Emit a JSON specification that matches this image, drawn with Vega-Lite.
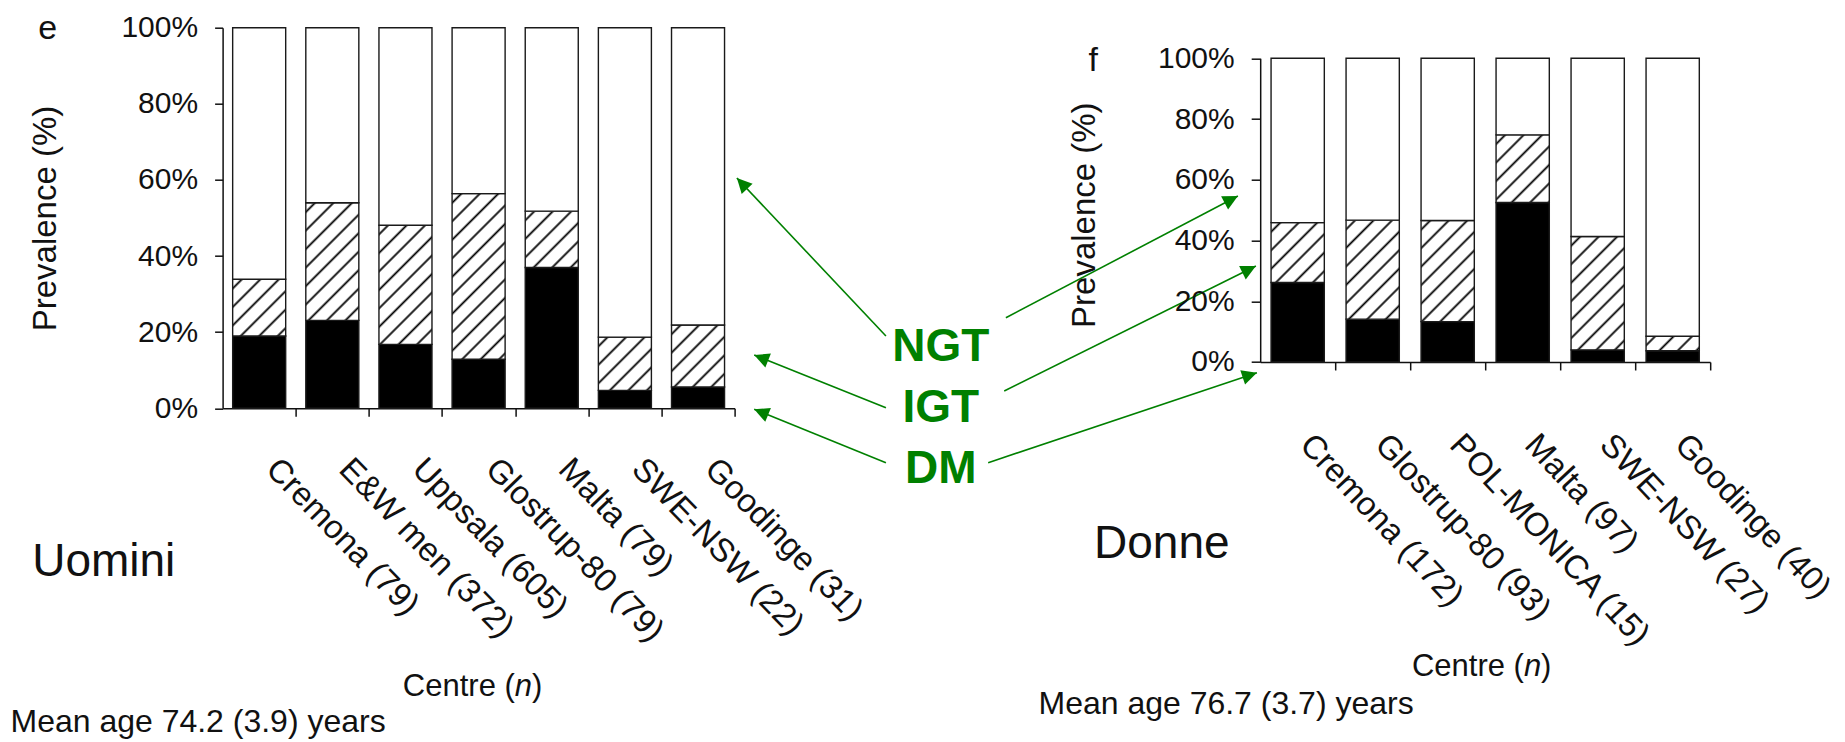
{
  "$schema": "https://vega.github.io/schema/vega-lite/v6.json",
  "padding": {"left": 9.6, "top": 11.7, "right": 0, "bottom": 0},
  "background": "white",
  "config": {"view": {"stroke": null}, "font": "Liberation Sans"},
  "bounds": "flush",
  "spacing": 525.6,
  "datasets": {
    "men": [
      {"centre": "Cremona (79)", "status": "DM", "pct": 19.0},
      {"centre": "Cremona (79)", "status": "IGT", "pct": 14.9},
      {"centre": "Cremona (79)", "status": "NGT", "pct": 66.1},
      {"centre": "E&W men (372)", "status": "DM", "pct": 23.1},
      {"centre": "E&W men (372)", "status": "IGT", "pct": 30.9},
      {"centre": "E&W men (372)", "status": "NGT", "pct": 46.0},
      {"centre": "Uppsala (605)", "status": "DM", "pct": 16.8},
      {"centre": "Uppsala (605)", "status": "IGT", "pct": 31.3},
      {"centre": "Uppsala (605)", "status": "NGT", "pct": 51.9},
      {"centre": "Glostrup-80 (79)", "status": "DM", "pct": 12.9},
      {"centre": "Glostrup-80 (79)", "status": "IGT", "pct": 43.5},
      {"centre": "Glostrup-80 (79)", "status": "NGT", "pct": 43.6},
      {"centre": "Malta (79)", "status": "DM", "pct": 37.0},
      {"centre": "Malta (79)", "status": "IGT", "pct": 14.8},
      {"centre": "Malta (79)", "status": "NGT", "pct": 48.2},
      {"centre": "SWE-NSW (22)", "status": "DM", "pct": 4.7},
      {"centre": "SWE-NSW (22)", "status": "IGT", "pct": 14.0},
      {"centre": "SWE-NSW (22)", "status": "NGT", "pct": 81.3},
      {"centre": "Goodinge (31)", "status": "DM", "pct": 5.6},
      {"centre": "Goodinge (31)", "status": "IGT", "pct": 16.3},
      {"centre": "Goodinge (31)", "status": "NGT", "pct": 78.1}
    ],
    "women": [
      {"centre": "Cremona (172)", "status": "DM", "pct": 26.2},
      {"centre": "Cremona (172)", "status": "IGT", "pct": 19.7},
      {"centre": "Cremona (172)", "status": "NGT", "pct": 54.1},
      {"centre": "Glostrup-80 (93)", "status": "DM", "pct": 14.1},
      {"centre": "Glostrup-80 (93)", "status": "IGT", "pct": 32.6},
      {"centre": "Glostrup-80 (93)", "status": "NGT", "pct": 53.3},
      {"centre": "POL-MONICA (15)", "status": "DM", "pct": 13.3},
      {"centre": "POL-MONICA (15)", "status": "IGT", "pct": 33.3},
      {"centre": "POL-MONICA (15)", "status": "NGT", "pct": 53.4},
      {"centre": "Malta (97)", "status": "DM", "pct": 52.5},
      {"centre": "Malta (97)", "status": "IGT", "pct": 22.3},
      {"centre": "Malta (97)", "status": "NGT", "pct": 25.2},
      {"centre": "SWE-NSW (27)", "status": "DM", "pct": 4.0},
      {"centre": "SWE-NSW (27)", "status": "IGT", "pct": 37.3},
      {"centre": "SWE-NSW (27)", "status": "NGT", "pct": 58.7},
      {"centre": "Goodinge (40)", "status": "DM", "pct": 3.7},
      {"centre": "Goodinge (40)", "status": "IGT", "pct": 4.8},
      {"centre": "Goodinge (40)", "status": "NGT", "pct": 91.5}
    ]
  },
  "hconcat": [
    {
      "width": 512,
      "height": 380.6,
      "layer": [
        {
          "data": {"name": "men"},
          "mark": {"type": "bar", "stroke": "#1a1a1a", "strokeWidth": 1.4},
          "encoding": {
            "x": {
              "field": "centre", "type": "nominal", "sort": null,
              "scale": {"paddingInner": 0.275, "paddingOuter": 0.1375},
              "axis": {"title": null, "labelAngle": 46, "labelAlign": "left", "labelBaseline": "middle", "labelFontSize": 33, "labelColor": "#111", "labelPadding": 47, "labelOffset": -24.6, "tickOffset": 36.57, "tickSize": 8, "tickWidth": 1.5, "tickColor": "#111", "domainColor": "#111", "domainWidth": 1.5, "labelLimit": 400, "labelOverlap": false, "grid": false}
            },
            "y": {
              "field": "pct", "type": "quantitative", "stack": "zero",
              "scale": {"domain": [0, 100], "nice": false},
              "axis": {"values": [0, 20, 40, 60, 80, 100], "labelExpr": "datum.value + '%'", "title": "Prevalence (%)", "titleFontSize": 33, "titleFontWeight": "normal", "titleColor": "#111", "titlePadding": 58, "labelFontSize": 30, "labelColor": "#111", "labelPadding": 17, "tickSize": 8, "tickWidth": 1.5, "tickColor": "#111", "domainColor": "#111", "domainWidth": 1.5, "grid": false}
            },
            "order": {"field": "status", "type": "ordinal", "sort": "ascending"},
            "fill": {
              "condition": [
                {"test": "datum.status === 'DM'", "value": "#000000"},
                {"test": "datum.status === 'NGT'", "value": "#ffffff"},
                {"test": "datum.centre === 'Cremona (79)'", "value": {"gradient": "linear", "x1": 0, "y1": 0, "x2": 1.9532, "y2": 2.0896, "stops": [{"offset":0.0302,"color":"#fff"},{"offset":0.0417,"color":"#000"},{"offset":0.0532,"color":"#fff"},{"offset":0.1135,"color":"#fff"},{"offset":0.125,"color":"#000"},{"offset":0.1365,"color":"#fff"},{"offset":0.1968,"color":"#fff"},{"offset":0.2083,"color":"#000"},{"offset":0.2198,"color":"#fff"},{"offset":0.2802,"color":"#fff"},{"offset":0.2917,"color":"#000"},{"offset":0.3032,"color":"#fff"},{"offset":0.3635,"color":"#fff"},{"offset":0.375,"color":"#000"},{"offset":0.3865,"color":"#fff"},{"offset":0.4468,"color":"#fff"},{"offset":0.4583,"color":"#000"},{"offset":0.4698,"color":"#fff"},{"offset":0.5302,"color":"#fff"},{"offset":0.5417,"color":"#000"},{"offset":0.5532,"color":"#fff"}]}},
                {"test": "datum.centre === 'E&W men (372)'", "value": {"gradient": "linear", "x1": 0, "y1": 0, "x2": 0.7071, "y2": 1.5691, "stops": [{"offset":0.0302,"color":"#fff"},{"offset":0.0417,"color":"#000"},{"offset":0.0532,"color":"#fff"},{"offset":0.1135,"color":"#fff"},{"offset":0.125,"color":"#000"},{"offset":0.1365,"color":"#fff"},{"offset":0.1968,"color":"#fff"},{"offset":0.2083,"color":"#000"},{"offset":0.2198,"color":"#fff"},{"offset":0.2802,"color":"#fff"},{"offset":0.2917,"color":"#000"},{"offset":0.3032,"color":"#fff"},{"offset":0.3635,"color":"#fff"},{"offset":0.375,"color":"#000"},{"offset":0.3865,"color":"#fff"},{"offset":0.4468,"color":"#fff"},{"offset":0.4583,"color":"#000"},{"offset":0.4698,"color":"#fff"},{"offset":0.5302,"color":"#fff"},{"offset":0.5417,"color":"#000"},{"offset":0.5532,"color":"#fff"},{"offset":0.6135,"color":"#fff"},{"offset":0.625,"color":"#000"},{"offset":0.6365,"color":"#fff"},{"offset":0.6968,"color":"#fff"},{"offset":0.7083,"color":"#000"},{"offset":0.7198,"color":"#fff"},{"offset":0.7802,"color":"#fff"},{"offset":0.7917,"color":"#000"},{"offset":0.8032,"color":"#fff"},{"offset":0.8635,"color":"#fff"},{"offset":0.875,"color":"#000"},{"offset":0.8865,"color":"#fff"}]}},
                {"test": "datum.centre === 'Uppsala (605)'", "value": {"gradient": "linear", "x1": 0, "y1": 0, "x2": 0.6924, "y2": 1.5559, "stops": [{"offset":0.0302,"color":"#fff"},{"offset":0.0417,"color":"#000"},{"offset":0.0532,"color":"#fff"},{"offset":0.1135,"color":"#fff"},{"offset":0.125,"color":"#000"},{"offset":0.1365,"color":"#fff"},{"offset":0.1968,"color":"#fff"},{"offset":0.2083,"color":"#000"},{"offset":0.2198,"color":"#fff"},{"offset":0.2802,"color":"#fff"},{"offset":0.2917,"color":"#000"},{"offset":0.3032,"color":"#fff"},{"offset":0.3635,"color":"#fff"},{"offset":0.375,"color":"#000"},{"offset":0.3865,"color":"#fff"},{"offset":0.4468,"color":"#fff"},{"offset":0.4583,"color":"#000"},{"offset":0.4698,"color":"#fff"},{"offset":0.5302,"color":"#fff"},{"offset":0.5417,"color":"#000"},{"offset":0.5532,"color":"#fff"},{"offset":0.6135,"color":"#fff"},{"offset":0.625,"color":"#000"},{"offset":0.6365,"color":"#fff"},{"offset":0.6968,"color":"#fff"},{"offset":0.7083,"color":"#000"},{"offset":0.7198,"color":"#fff"},{"offset":0.7802,"color":"#fff"},{"offset":0.7917,"color":"#000"},{"offset":0.8032,"color":"#fff"},{"offset":0.8635,"color":"#fff"},{"offset":0.875,"color":"#000"},{"offset":0.8865,"color":"#fff"}]}},
                {"test": "datum.centre === 'Glostrup-80 (79)'", "value": {"gradient": "linear", "x1": 0, "y1": 0, "x2": 0.3892, "y2": 1.2160, "stops": [{"offset":0.0302,"color":"#fff"},{"offset":0.0417,"color":"#000"},{"offset":0.0532,"color":"#fff"},{"offset":0.1135,"color":"#fff"},{"offset":0.125,"color":"#000"},{"offset":0.1365,"color":"#fff"},{"offset":0.1968,"color":"#fff"},{"offset":0.2083,"color":"#000"},{"offset":0.2198,"color":"#fff"},{"offset":0.2802,"color":"#fff"},{"offset":0.2917,"color":"#000"},{"offset":0.3032,"color":"#fff"},{"offset":0.3635,"color":"#fff"},{"offset":0.375,"color":"#000"},{"offset":0.3865,"color":"#fff"},{"offset":0.4468,"color":"#fff"},{"offset":0.4583,"color":"#000"},{"offset":0.4698,"color":"#fff"},{"offset":0.5302,"color":"#fff"},{"offset":0.5417,"color":"#000"},{"offset":0.5532,"color":"#fff"},{"offset":0.6135,"color":"#fff"},{"offset":0.625,"color":"#000"},{"offset":0.6365,"color":"#fff"},{"offset":0.6968,"color":"#fff"},{"offset":0.7083,"color":"#000"},{"offset":0.7198,"color":"#fff"},{"offset":0.7802,"color":"#fff"},{"offset":0.7917,"color":"#000"},{"offset":0.8032,"color":"#fff"},{"offset":0.8635,"color":"#fff"},{"offset":0.875,"color":"#000"},{"offset":0.8865,"color":"#fff"},{"offset":0.9468,"color":"#fff"},{"offset":0.9583,"color":"#000"},{"offset":0.9698,"color":"#fff"}]}},
                {"test": "datum.centre === 'Malta (79)'", "value": {"gradient": "linear", "x1": 0, "y1": 0, "x2": 1.9680, "y2": 2.0905, "stops": [{"offset":0.0302,"color":"#fff"},{"offset":0.0417,"color":"#000"},{"offset":0.0532,"color":"#fff"},{"offset":0.1135,"color":"#fff"},{"offset":0.125,"color":"#000"},{"offset":0.1365,"color":"#fff"},{"offset":0.1968,"color":"#fff"},{"offset":0.2083,"color":"#000"},{"offset":0.2198,"color":"#fff"},{"offset":0.2802,"color":"#fff"},{"offset":0.2917,"color":"#000"},{"offset":0.3032,"color":"#fff"},{"offset":0.3635,"color":"#fff"},{"offset":0.375,"color":"#000"},{"offset":0.3865,"color":"#fff"},{"offset":0.4468,"color":"#fff"},{"offset":0.4583,"color":"#000"},{"offset":0.4698,"color":"#fff"},{"offset":0.5302,"color":"#fff"},{"offset":0.5417,"color":"#000"},{"offset":0.5532,"color":"#fff"}]}},
                {"test": "datum.centre === 'SWE-NSW (22)'", "value": {"gradient": "linear", "x1": 0, "y1": 0, "x2": 2.0825, "y2": 2.0943, "stops": [{"offset":0.0302,"color":"#fff"},{"offset":0.0417,"color":"#000"},{"offset":0.0532,"color":"#fff"},{"offset":0.1135,"color":"#fff"},{"offset":0.125,"color":"#000"},{"offset":0.1365,"color":"#fff"},{"offset":0.1968,"color":"#fff"},{"offset":0.2083,"color":"#000"},{"offset":0.2198,"color":"#fff"},{"offset":0.2802,"color":"#fff"},{"offset":0.2917,"color":"#000"},{"offset":0.3032,"color":"#fff"},{"offset":0.3635,"color":"#fff"},{"offset":0.375,"color":"#000"},{"offset":0.3865,"color":"#fff"},{"offset":0.4468,"color":"#fff"},{"offset":0.4583,"color":"#000"},{"offset":0.4698,"color":"#fff"},{"offset":0.5302,"color":"#fff"},{"offset":0.5417,"color":"#000"},{"offset":0.5532,"color":"#fff"}]}},
                {"test": "datum.centre === 'Goodinge (31)'", "value": {"gradient": "linear", "x1": 0, "y1": 0, "x2": 1.7685, "y2": 2.0688, "stops": [{"offset":0.0302,"color":"#fff"},{"offset":0.0417,"color":"#000"},{"offset":0.0532,"color":"#fff"},{"offset":0.1135,"color":"#fff"},{"offset":0.125,"color":"#000"},{"offset":0.1365,"color":"#fff"},{"offset":0.1968,"color":"#fff"},{"offset":0.2083,"color":"#000"},{"offset":0.2198,"color":"#fff"},{"offset":0.2802,"color":"#fff"},{"offset":0.2917,"color":"#000"},{"offset":0.3032,"color":"#fff"},{"offset":0.3635,"color":"#fff"},{"offset":0.375,"color":"#000"},{"offset":0.3865,"color":"#fff"},{"offset":0.4468,"color":"#fff"},{"offset":0.4583,"color":"#000"},{"offset":0.4698,"color":"#fff"},{"offset":0.5302,"color":"#fff"},{"offset":0.5417,"color":"#000"},{"offset":0.5532,"color":"#fff"},{"offset":0.6135,"color":"#fff"},{"offset":0.625,"color":"#000"},{"offset":0.6365,"color":"#fff"}]}}
              ],
              "value": "#ffffff"
            }
          }
        },
        {
          "encoding": {
            "x": {"field": "u", "type": "quantitative", "scale": {"domain": [0, 7], "nice": false, "zero": false}, "axis": null},
            "y": {"field": "v", "type": "quantitative", "scale": {"domain": [0, 100], "nice": false}, "axis": null}
          },
          "layer": [
            {
              "data": {"values": [
                {"u": 9.069, "v": 19.0, "u2": 7.031, "v2": 60.51, "heading": 316.7},
                {"u": 9.069, "v": 0.16, "u2": 7.268, "v2": 14.0, "heading": 291.8},
                {"u": 9.069, "v": -14.29, "u2": 7.268, "v2": -0.26, "heading": 292.1},
                {"u": 10.709, "v": 23.8, "u2": 13.881, "v2": 55.78, "heading": 62.3},
                {"u": 10.686, "v": 4.55, "u2": 14.127, "v2": 37.39, "heading": 63.6},
                {"u": 10.467, "v": -14.29, "u2": 14.141, "v2": 9.35, "heading": 71.5}
              ]},
              "mark": {"type": "rule", "stroke": "#008000", "strokeWidth": 1.6},
              "encoding": {
                "x2": {"field": "u2"},
                "y2": {"field": "v2"}
              }
            },
            {
              "data": {"values": [
                {"u": 9.069, "v": 19.0, "u2": 7.031, "v2": 60.51, "heading": 316.7},
                {"u": 9.069, "v": 0.16, "u2": 7.268, "v2": 14.0, "heading": 291.8},
                {"u": 9.069, "v": -14.29, "u2": 7.268, "v2": -0.26, "heading": 292.1},
                {"u": 10.709, "v": 23.8, "u2": 13.881, "v2": 55.78, "heading": 62.3},
                {"u": 10.686, "v": 4.55, "u2": 14.127, "v2": 37.39, "heading": 63.6},
                {"u": 10.467, "v": -14.29, "u2": 14.141, "v2": 9.35, "heading": 71.5}
              ]},
              "mark": {"type": "point", "shape": "M0,0L0.75,1.5L-0.75,1.5Z", "filled": true, "fill": "#008000", "opacity": 1, "size": 400, "strokeWidth": 0},
              "encoding": {
                "x": {"field": "u2", "type": "quantitative", "scale": {"domain": [0, 7], "nice": false, "zero": false}, "axis": null},
                "y": {"field": "v2", "type": "quantitative", "scale": {"domain": [0, 100], "nice": false}, "axis": null},
                "angle": {"field": "heading", "type": "quantitative", "scale": null}
              }
            },
            {
              "data": {"values": [
                {"label": "NGT", "u": 9.82, "v": 12.43},
                {"label": "IGT", "u": 9.82, "v": -3.55},
                {"label": "DM", "u": 9.82, "v": -19.55}
              ]},
              "mark": {"type": "text", "fontWeight": "bold", "fontSize": 46, "color": "#008000", "align": "center", "baseline": "alphabetic"},
              "encoding": {"text": {"field": "label"}}
            },
            {
              "data": {"values": [{"t": "e", "u": -2.52, "v": 97.03}]},
              "mark": {"type": "text", "color": "#111", "align": "left", "baseline": "alphabetic", "fontSize": 34},
              "encoding": {"text": {"field": "t"}}
            },
            {
              "data": {"values": [{"t": "Uomini", "u": -2.603, "v": -44.06}]},
              "mark": {"type": "text", "color": "#111", "align": "left", "baseline": "alphabetic", "fontSize": 46},
              "encoding": {"text": {"field": "t"}}
            },
            {
              "data": {"values": [{"t": "Mean age 74.2 (3.9) years", "u": -2.9, "v": -85.05}]},
              "mark": {"type": "text", "color": "#111", "align": "left", "baseline": "alphabetic", "fontSize": 32},
              "encoding": {"text": {"field": "t"}}
            },
            {
              "data": {"values": [{"t": "Centre (", "u": 3.995, "v": -75.59}]},
              "mark": {"type": "text", "color": "#111", "align": "right", "baseline": "alphabetic", "fontSize": 31},
              "encoding": {"text": {"field": "t"}}
            },
            {
              "data": {"values": [{"t": "n", "u": 3.995, "v": -75.59}]},
              "mark": {"type": "text", "color": "#111", "align": "left", "baseline": "alphabetic", "fontSize": 31, "fontStyle": "italic"},
              "encoding": {"text": {"field": "t"}}
            },
            {
              "data": {"values": [{"t": ")", "u": 4.23, "v": -75.59}]},
              "mark": {"type": "text", "color": "#111", "align": "left", "baseline": "alphabetic", "fontSize": 31},
              "encoding": {"text": {"field": "t"}}
            }
          ]
        }
      ],
      "resolve": {"scale": {"x": "independent", "y": "independent"}}
    },
    {
      "width": 450,
      "height": 334.3,
      "layer": [
        {
          "data": {"name": "women"},
          "mark": {"type": "bar", "stroke": "#1a1a1a", "strokeWidth": 1.4},
          "encoding": {
            "x": {
              "field": "centre", "type": "nominal", "sort": null,
              "scale": {"paddingInner": 0.29, "paddingOuter": 0.145},
              "axis": {"title": null, "labelAngle": 47, "labelAlign": "left", "labelBaseline": "middle", "labelFontSize": 33, "labelColor": "#111", "labelPadding": 69, "labelOffset": -30, "tickOffset": 37.5, "tickSize": 8, "tickWidth": 1.5, "tickColor": "#111", "domainColor": "#111", "domainWidth": 1.5, "labelLimit": 400, "labelOverlap": false, "grid": false}
            },
            "y": {
              "field": "pct", "type": "quantitative", "stack": "zero",
              "scale": {"domain": [0, 100], "range": [334.3, 30.6], "nice": false},
              "axis": {"values": [0, 20, 40, 60, 80, 100], "labelExpr": "datum.value + '%'", "title": "Prevalence (%)", "titleY": 187, "titleFontSize": 33, "titleFontWeight": "normal", "titleColor": "#111", "titlePadding": 55.6, "labelFontSize": 30, "labelColor": "#111", "labelPadding": 17, "tickSize": 9, "tickWidth": 1.5, "tickColor": "#111", "domainColor": "#111", "domainWidth": 1.5, "grid": false}
            },
            "order": {"field": "status", "type": "ordinal", "sort": "ascending"},
            "fill": {
              "condition": [
                {"test": "datum.status === 'DM'", "value": "#000000"},
                {"test": "datum.status === 'NGT'", "value": "#ffffff"},
                {"test": "datum.centre === 'Cremona (172)'", "value": {"gradient": "linear", "x1": 0, "y1": 0, "x2": 1.8440, "y2": 2.0688, "stops": [{"offset":0.0302,"color":"#fff"},{"offset":0.0417,"color":"#000"},{"offset":0.0532,"color":"#fff"},{"offset":0.1135,"color":"#fff"},{"offset":0.125,"color":"#000"},{"offset":0.1365,"color":"#fff"},{"offset":0.1968,"color":"#fff"},{"offset":0.2083,"color":"#000"},{"offset":0.2198,"color":"#fff"},{"offset":0.2802,"color":"#fff"},{"offset":0.2917,"color":"#000"},{"offset":0.3032,"color":"#fff"},{"offset":0.3635,"color":"#fff"},{"offset":0.375,"color":"#000"},{"offset":0.3865,"color":"#fff"},{"offset":0.4468,"color":"#fff"},{"offset":0.4583,"color":"#000"},{"offset":0.4698,"color":"#fff"},{"offset":0.5302,"color":"#fff"},{"offset":0.5417,"color":"#000"},{"offset":0.5532,"color":"#fff"},{"offset":0.6135,"color":"#fff"},{"offset":0.625,"color":"#000"},{"offset":0.6365,"color":"#fff"}]}},
                {"test": "datum.centre === 'Glostrup-80 (93)'", "value": {"gradient": "linear", "x1": 0, "y1": 0, "x2": 0.9360, "y2": 1.7385, "stops": [{"offset":0.0302,"color":"#fff"},{"offset":0.0417,"color":"#000"},{"offset":0.0532,"color":"#fff"},{"offset":0.1135,"color":"#fff"},{"offset":0.125,"color":"#000"},{"offset":0.1365,"color":"#fff"},{"offset":0.1968,"color":"#fff"},{"offset":0.2083,"color":"#000"},{"offset":0.2198,"color":"#fff"},{"offset":0.2802,"color":"#fff"},{"offset":0.2917,"color":"#000"},{"offset":0.3032,"color":"#fff"},{"offset":0.3635,"color":"#fff"},{"offset":0.375,"color":"#000"},{"offset":0.3865,"color":"#fff"},{"offset":0.4468,"color":"#fff"},{"offset":0.4583,"color":"#000"},{"offset":0.4698,"color":"#fff"},{"offset":0.5302,"color":"#fff"},{"offset":0.5417,"color":"#000"},{"offset":0.5532,"color":"#fff"},{"offset":0.6135,"color":"#fff"},{"offset":0.625,"color":"#000"},{"offset":0.6365,"color":"#fff"},{"offset":0.6968,"color":"#fff"},{"offset":0.7083,"color":"#000"},{"offset":0.7198,"color":"#fff"},{"offset":0.7802,"color":"#fff"},{"offset":0.7917,"color":"#000"},{"offset":0.8032,"color":"#fff"}]}},
                {"test": "datum.centre === 'POL-MONICA (15)'", "value": {"gradient": "linear", "x1": 0, "y1": 0, "x2": 0.9059, "y2": 1.7183, "stops": [{"offset":0.0302,"color":"#fff"},{"offset":0.0417,"color":"#000"},{"offset":0.0532,"color":"#fff"},{"offset":0.1135,"color":"#fff"},{"offset":0.125,"color":"#000"},{"offset":0.1365,"color":"#fff"},{"offset":0.1968,"color":"#fff"},{"offset":0.2083,"color":"#000"},{"offset":0.2198,"color":"#fff"},{"offset":0.2802,"color":"#fff"},{"offset":0.2917,"color":"#000"},{"offset":0.3032,"color":"#fff"},{"offset":0.3635,"color":"#fff"},{"offset":0.375,"color":"#000"},{"offset":0.3865,"color":"#fff"},{"offset":0.4468,"color":"#fff"},{"offset":0.4583,"color":"#000"},{"offset":0.4698,"color":"#fff"},{"offset":0.5302,"color":"#fff"},{"offset":0.5417,"color":"#000"},{"offset":0.5532,"color":"#fff"},{"offset":0.6135,"color":"#fff"},{"offset":0.625,"color":"#000"},{"offset":0.6365,"color":"#fff"},{"offset":0.6968,"color":"#fff"},{"offset":0.7083,"color":"#000"},{"offset":0.7198,"color":"#fff"},{"offset":0.7802,"color":"#fff"},{"offset":0.7917,"color":"#000"},{"offset":0.8032,"color":"#fff"}]}},
                {"test": "datum.centre === 'Malta (97)'", "value": {"gradient": "linear", "x1": 0, "y1": 0, "x2": 1.5938, "y2": 2.0244, "stops": [{"offset":0.0302,"color":"#fff"},{"offset":0.0417,"color":"#000"},{"offset":0.0532,"color":"#fff"},{"offset":0.1135,"color":"#fff"},{"offset":0.125,"color":"#000"},{"offset":0.1365,"color":"#fff"},{"offset":0.1968,"color":"#fff"},{"offset":0.2083,"color":"#000"},{"offset":0.2198,"color":"#fff"},{"offset":0.2802,"color":"#fff"},{"offset":0.2917,"color":"#000"},{"offset":0.3032,"color":"#fff"},{"offset":0.3635,"color":"#fff"},{"offset":0.375,"color":"#000"},{"offset":0.3865,"color":"#fff"},{"offset":0.4468,"color":"#fff"},{"offset":0.4583,"color":"#000"},{"offset":0.4698,"color":"#fff"},{"offset":0.5302,"color":"#fff"},{"offset":0.5417,"color":"#000"},{"offset":0.5532,"color":"#fff"},{"offset":0.6135,"color":"#fff"},{"offset":0.625,"color":"#000"},{"offset":0.6365,"color":"#fff"}]}},
                {"test": "datum.centre === 'SWE-NSW (27)'", "value": {"gradient": "linear", "x1": 0, "y1": 0, "x2": 0.7547, "y2": 1.6043, "stops": [{"offset":0.0302,"color":"#fff"},{"offset":0.0417,"color":"#000"},{"offset":0.0532,"color":"#fff"},{"offset":0.1135,"color":"#fff"},{"offset":0.125,"color":"#000"},{"offset":0.1365,"color":"#fff"},{"offset":0.1968,"color":"#fff"},{"offset":0.2083,"color":"#000"},{"offset":0.2198,"color":"#fff"},{"offset":0.2802,"color":"#fff"},{"offset":0.2917,"color":"#000"},{"offset":0.3032,"color":"#fff"},{"offset":0.3635,"color":"#fff"},{"offset":0.375,"color":"#000"},{"offset":0.3865,"color":"#fff"},{"offset":0.4468,"color":"#fff"},{"offset":0.4583,"color":"#000"},{"offset":0.4698,"color":"#fff"},{"offset":0.5302,"color":"#fff"},{"offset":0.5417,"color":"#000"},{"offset":0.5532,"color":"#fff"},{"offset":0.6135,"color":"#fff"},{"offset":0.625,"color":"#000"},{"offset":0.6365,"color":"#fff"},{"offset":0.6968,"color":"#fff"},{"offset":0.7083,"color":"#000"},{"offset":0.7198,"color":"#fff"},{"offset":0.7802,"color":"#fff"},{"offset":0.7917,"color":"#000"},{"offset":0.8032,"color":"#fff"},{"offset":0.8635,"color":"#fff"},{"offset":0.875,"color":"#000"},{"offset":0.8865,"color":"#fff"}]}},
                {"test": "datum.centre === 'Goodinge (40)'", "value": {"gradient": "linear", "x1": 0, "y1": 0, "x2": 3.8743, "y2": 1.0613, "stops": [{"offset":0.0302,"color":"#fff"},{"offset":0.0417,"color":"#000"},{"offset":0.0532,"color":"#fff"},{"offset":0.1135,"color":"#fff"},{"offset":0.125,"color":"#000"},{"offset":0.1365,"color":"#fff"},{"offset":0.1968,"color":"#fff"},{"offset":0.2083,"color":"#000"},{"offset":0.2198,"color":"#fff"},{"offset":0.2802,"color":"#fff"},{"offset":0.2917,"color":"#000"},{"offset":0.3032,"color":"#fff"},{"offset":0.3635,"color":"#fff"},{"offset":0.375,"color":"#000"},{"offset":0.3865,"color":"#fff"}]}}
              ],
              "value": "#ffffff"
            }
          }
        },
        {
          "encoding": {
            "x": {"field": "u", "type": "quantitative", "scale": {"domain": [0, 6], "nice": false, "zero": false}, "axis": null},
            "y": {"field": "v", "type": "quantitative", "scale": {"domain": [0, 100], "range": [334.3, 30.6], "nice": false}, "axis": null}
          },
          "layer": [
            {
              "data": {"values": [{"t": "f", "u": -2.29, "v": 95.82}]},
              "mark": {"type": "text", "color": "#111", "align": "left", "baseline": "alphabetic", "fontSize": 34},
              "encoding": {"text": {"field": "t"}}
            },
            {
              "data": {"values": [{"t": "Donne", "u": -2.215, "v": -64.54}]},
              "mark": {"type": "text", "color": "#111", "align": "left", "baseline": "alphabetic", "fontSize": 46},
              "encoding": {"text": {"field": "t"}}
            },
            {
              "data": {"values": [{"t": "Mean age 76.7 (3.7) years", "u": -2.956, "v": -115.9}]},
              "mark": {"type": "text", "color": "#111", "align": "left", "baseline": "alphabetic", "fontSize": 32},
              "encoding": {"text": {"field": "t"}}
            },
            {
              "data": {"values": [{"t": "Centre (", "u": 3.516, "v": -103.39}]},
              "mark": {"type": "text", "color": "#111", "align": "right", "baseline": "alphabetic", "fontSize": 31},
              "encoding": {"text": {"field": "t"}}
            },
            {
              "data": {"values": [{"t": "n", "u": 3.516, "v": -103.39}]},
              "mark": {"type": "text", "color": "#111", "align": "left", "baseline": "alphabetic", "fontSize": 31, "fontStyle": "italic"},
              "encoding": {"text": {"field": "t"}}
            },
            {
              "data": {"values": [{"t": ")", "u": 3.745, "v": -103.39}]},
              "mark": {"type": "text", "color": "#111", "align": "left", "baseline": "alphabetic", "fontSize": 31},
              "encoding": {"text": {"field": "t"}}
            }
          ]
        }
      ],
      "resolve": {"scale": {"x": "independent", "y": "independent"}}
    }
  ],
  "resolve": {"scale": {"x": "independent", "y": "independent"}}
}
